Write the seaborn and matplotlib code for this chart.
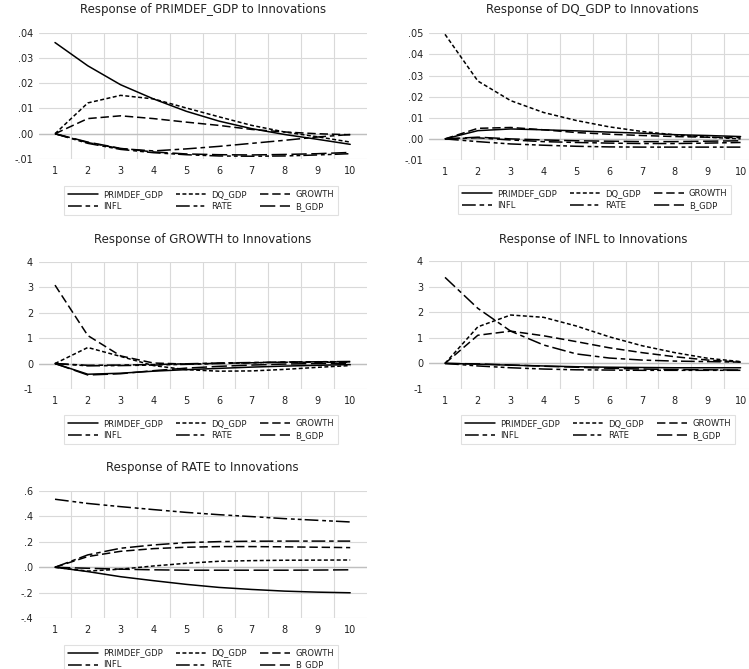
import pandas as pd
import matplotlib
matplotlib.use("Agg")
import matplotlib.pyplot as plt
from matplotlib.lines import Line2D
from matplotlib.ticker import FuncFormatter, MultipleLocator, FixedLocator
import seaborn as sns

sns.set_style("white")
plt.rcParams["font.family"] = ["DejaVu Sans"]

periods = list(range(1, 11))
shocks = ["PRIMDEF_GDP", "DQ_GDP", "GROWTH", "INFL", "RATE", "B_GDP"]

# Response of PRIMDEF_GDP
primdef_primdef = [0.0361, 0.0269, 0.0194, 0.0138, 0.0089, 0.0050, 0.0020, -0.0003, -0.0022, -0.0042]
primdef_dq = [0.0, 0.0122, 0.0152, 0.0138, 0.0102, 0.0067, 0.0033, 0.0007, -0.0012, -0.0033]
primdef_growth = [0.0, 0.0060, 0.0071, 0.0060, 0.0046, 0.0033, 0.0017, 0.0007, 0.0000, -0.0004]
primdef_infl = [0.0, -0.0035, -0.0059, -0.0068, -0.0060, -0.0050, -0.0038, -0.0026, -0.0013, -0.0003]
primdef_rate = [0.0, -0.0038, -0.0062, -0.0075, -0.0083, -0.0088, -0.0089, -0.0088, -0.0084, -0.0079]
primdef_bgdp = [0.0, -0.0033, -0.0058, -0.0072, -0.0080, -0.0083, -0.0084, -0.0082, -0.0079, -0.0074]

# Response of DQ_GDP
dq_primdef = [0.0, 0.0039, 0.0047, 0.0043, 0.0038, 0.0032, 0.0027, 0.0020, 0.0016, 0.0011]
dq_dq = [0.0495, 0.0274, 0.0181, 0.0125, 0.0087, 0.0057, 0.0035, 0.0019, 0.0008, 0.0000]
dq_growth = [0.0, 0.0050, 0.0054, 0.0043, 0.0030, 0.0022, 0.0016, 0.0011, 0.0008, 0.0006]
dq_infl = [0.0, 0.0005, -0.0005, -0.0013, -0.0017, -0.0020, -0.0022, -0.0022, -0.0020, -0.0017]
dq_rate = [0.0, -0.0013, -0.0024, -0.0030, -0.0035, -0.0038, -0.0039, -0.0039, -0.0039, -0.0039]
dq_bgdp = [0.0, 0.0008, 0.0000, -0.0005, -0.0009, -0.0011, -0.0013, -0.0013, -0.0011, -0.0009]

# Response of GROWTH
growth_primdef = [0.0, -0.42, -0.38, -0.30, -0.24, -0.19, -0.14, -0.10, -0.07, -0.04]
growth_dq = [0.0, 0.63, 0.28, -0.08, -0.24, -0.30, -0.29, -0.23, -0.15, -0.08]
growth_growth = [3.08, 1.10, 0.30, 0.02, -0.02, 0.01, 0.03, 0.05, 0.05, 0.05]
growth_infl = [0.0, -0.07, -0.06, -0.04, -0.01, 0.02, 0.04, 0.06, 0.07, 0.07]
growth_rate = [0.0, -0.09, -0.08, -0.06, -0.03, 0.00, 0.03, 0.05, 0.07, 0.08]
growth_bgdp = [0.0, -0.45, -0.40, -0.28, -0.18, -0.11, -0.06, -0.02, 0.00, 0.01]

# Response of INFL
infl_primdef = [0.0, -0.03, -0.07, -0.10, -0.13, -0.15, -0.16, -0.17, -0.17, -0.17]
infl_dq = [0.0, 1.43, 1.89, 1.80, 1.46, 1.04, 0.69, 0.42, 0.20, 0.07]
infl_growth = [0.0, 1.10, 1.26, 1.08, 0.85, 0.61, 0.42, 0.26, 0.13, 0.05]
infl_infl = [3.36, 2.15, 1.26, 0.72, 0.37, 0.21, 0.13, 0.09, 0.07, 0.05]
infl_rate = [0.0, -0.10, -0.17, -0.22, -0.25, -0.26, -0.27, -0.27, -0.27, -0.27]
infl_bgdp = [0.0, -0.02, -0.06, -0.11, -0.15, -0.19, -0.22, -0.24, -0.25, -0.26]

# Response of RATE
rate_primdef = [0.0, -0.034, -0.074, -0.105, -0.134, -0.158, -0.174, -0.187, -0.195, -0.200]
rate_dq = [0.0, -0.030, -0.015, 0.010, 0.031, 0.047, 0.052, 0.055, 0.056, 0.057]
rate_growth = [0.0, 0.084, 0.125, 0.146, 0.157, 0.162, 0.162, 0.160, 0.157, 0.154]
rate_infl = [0.0, 0.097, 0.149, 0.175, 0.193, 0.201, 0.204, 0.205, 0.205, 0.205]
rate_rate = [0.533, 0.500, 0.475, 0.452, 0.430, 0.412, 0.397, 0.381, 0.368, 0.355]
rate_bgdp = [0.0, -0.008, -0.015, -0.020, -0.023, -0.023, -0.023, -0.023, -0.022, -0.020]

panels = [
    ("PRIMDEF_GDP", [primdef_primdef, primdef_dq, primdef_growth, primdef_infl, primdef_rate, primdef_bgdp],
     (-0.01, 0.04), 0.01, 2),
    ("DQ_GDP", [dq_primdef, dq_dq, dq_growth, dq_infl, dq_rate, dq_bgdp],
     (-0.01, 0.05), 0.01, 2),
    ("GROWTH", [growth_primdef, growth_dq, growth_growth, growth_infl, growth_rate, growth_bgdp],
     (-1, 4), 1, 0),
    ("INFL", [infl_primdef, infl_dq, infl_growth, infl_infl, infl_rate, infl_bgdp],
     (-1, 4), 1, 0),
    ("RATE", [rate_primdef, rate_dq, rate_growth, rate_infl, rate_rate, rate_bgdp],
     (-0.4, 0.6), 0.2, 1),
]

# line patterns (in linewidth units)
dash_styles = {
    "PRIMDEF_GDP": "",
    "DQ_GDP": (2.6, 1.6),
    "GROWTH": (5.5, 2.5),
    "INFL": (9, 2.5, 3, 2.5),
    "RATE": (9, 2.5, 2.5, 2.0, 2.5, 2.0),
    "B_GDP": (10, 3),
}

W, H = 749, 669
fig = plt.figure(figsize=(W / 100, H / 100), dpi=100)

# axes boxes in pixels: left, right, top, bottom
boxes = [
    (38.6, 366.6, 32.7, 159.0),
    (428.6, 757.0, 33.3, 160.0),
    (38.6, 366.6, 261.7, 389.0),
    (428.6, 757.0, 261.0, 389.0),
    (38.6, 366.6, 490.7, 618.3),
]
title_y = [10, 10, 239, 239, 468]
legend_box = [
    (201, 200.5), (594.5, 199.5), (201, 429.5), (598, 429.5), (201, 659),
]

grid_c = "#d9d9d9"
lw = 1.1


def make_fmt(dec):
    def f(v, pos):
        if abs(v) < 1e-9:
            v = 0.0
        s = f"{v:.{dec}f}"
        if dec > 0 and s.startswith(("0.", "-0.")):
            s = s.replace("0.", ".", 1)
        return s
    return f


for (name, series, ylim, step, dec), (l, r, t, b), ty, (lx, ly) in zip(panels, boxes, title_y, legend_box):
    ax = fig.add_axes([l / W, 1 - b / H, (r - l) / W, (b - t) / H])
    df = pd.DataFrame({
        "period": periods * len(shocks),
        "value": [v for s in series for v in s],
        "shock": [sh for sh in shocks for _ in periods],
    })
    sns.lineplot(data=df, x="period", y="value", style="shock", style_order=shocks,
                 dashes=dash_styles, color="black", linewidth=lw, legend=False,
                 ax=ax, sort=False, zorder=3)
    ax.set_xlim(0.5, 10.5)
    ax.set_ylim(*ylim)
    ax.yaxis.set_major_locator(MultipleLocator(step))
    ax.yaxis.set_major_formatter(FuncFormatter(make_fmt(dec)))
    ax.xaxis.set_major_locator(FixedLocator(periods))
    ax.xaxis.set_minor_locator(FixedLocator([p + 0.5 for p in periods[:-1]]))
    ax.grid(True, axis="y", which="major", color=grid_c, lw=0.8, zorder=0)
    ax.grid(True, axis="x", which="minor", color=grid_c, lw=0.8, zorder=0)
    ax.grid(False, axis="x", which="major")
    ax.axhline(0, color="#bfbfbf", lw=1.0, zorder=1)
    for sp in ax.spines.values():
        sp.set_visible(False)
    ax.tick_params(axis="both", which="both", length=0, labelsize=7, colors="#222222")
    ax.tick_params(axis="x", pad=5)
    ax.tick_params(axis="y", pad=4)
    ax.set_xlabel("")
    ax.set_ylabel("")

    cx = (l + r) / 2
    fig.text(cx / W, 1 - ty / H, f"Response of {name} to Innovations",
             ha="center", va="center", fontsize=8.5, color="#222222")

    order = ["PRIMDEF_GDP", "INFL", "DQ_GDP", "RATE", "GROWTH", "B_GDP"]
    handles = []
    for sh in order:
        d = dash_styles[sh]
        if d == "":
            handles.append(Line2D([0], [0], color="black", lw=lw, linestyle="-"))
        else:
            handles.append(Line2D([0], [0], color="black", lw=lw, dashes=d))
    leg = fig.legend(handles, order, loc="center", bbox_to_anchor=(lx / W, 1 - ly / H),
                     ncol=3, fontsize=6, handlelength=3.6, handletextpad=0.6,
                     columnspacing=1.6, labelspacing=0.35, borderpad=0.45,
                     frameon=True, fancybox=False, edgecolor=grid_c)
    leg.get_frame().set_linewidth(0.8)
    for txt in leg.get_texts():
        txt.set_color("#222222")

fig.savefig("out.png", dpi=100)
